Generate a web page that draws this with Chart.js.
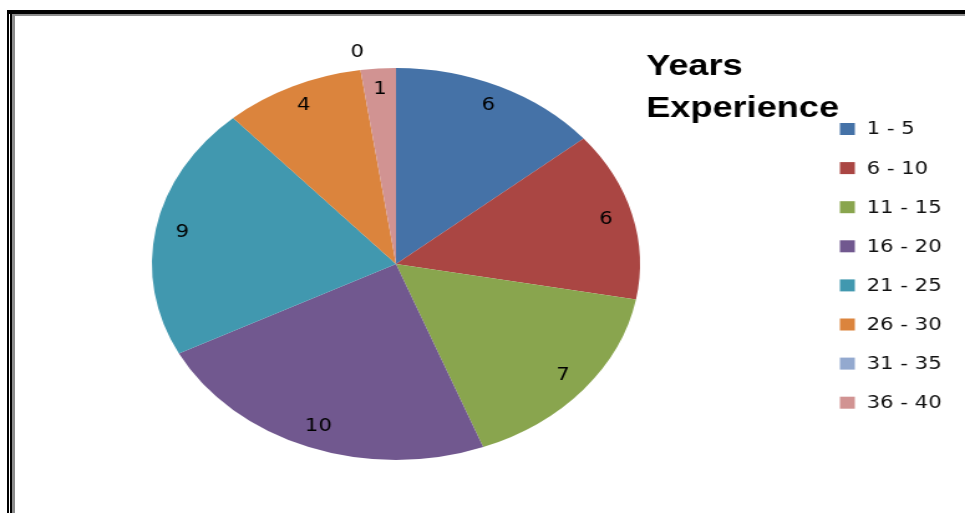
<!DOCTYPE html>
<html>
<head>
<meta charset="utf-8">
<script src="https://cdn.jsdelivr.net/npm/chart.js@4/dist/chart.umd.min.js"></script>
<style>
    html, body { margin: 0; padding: 0; background: #fff; overflow: hidden; }
    #wrap { position: absolute; left: 0; top: 0; width: 775px; height: 513px;
            transform: scaleX(1.2452); transform-origin: 0 0; }
    #c { width: 775px; height: 513px; }
    .ln { position: absolute; }
</style>
</head>
<body>
<div id="wrap"><canvas id="c" width="775" height="513"></canvas></div>
<!-- frame -->
<div class="ln" style="left:7px;top:10px;width:958px;height:4px;background:#000"></div>
<div class="ln" style="left:12px;top:14px;width:953px;height:2px;background:#8c8c8c"></div>
<div class="ln" style="left:7px;top:10px;width:2px;height:503px;background:#000"></div>
<div class="ln" style="left:10px;top:12px;width:2px;height:501px;background:#000"></div>
<div class="ln" style="left:12px;top:14px;width:3px;height:499px;background:#8c8c8c"></div>
<script>
var categories = ['1 - 5', '6 - 10', '11 - 15', '16 - 20', '21 - 25', '26 - 30', '31 - 35', '36 - 40'];
var teachers = [6, 6, 7, 10, 9, 4, 0, 1];
var sliceColors = ['#4572A7', '#AA4643', '#89A54E', '#71588F', '#4198AF', '#DB843D', '#93A9CF', '#D19392'];
var titleLines = ['Years', 'Experience'];

// value labels inside each slice (zero goes just outside)
var sliceLabels = {
    id: 'sliceLabels',
    afterDatasetsDraw: function (chart) {
        var ctx = chart.ctx;
        var meta = chart.getDatasetMeta(0);
        ctx.save();
        ctx.font = '17px "DejaVu Sans"';
        ctx.fillStyle = '#000';
        ctx.textAlign = 'center';
        ctx.textBaseline = 'middle';
        meta.data.forEach(function (arc, i) {
            var v = teachers[i];
            var mid = (arc.startAngle + arc.endAngle) / 2;
            var r = v === 0 ? arc.outerRadius * 1.09 : arc.outerRadius * 0.89;
            ctx.fillText(String(v), arc.x + Math.cos(mid) * r, arc.y + Math.sin(mid) * r);
        });
        ctx.restore();
    }
};

// title and legend on the right
var sideLegend = {
    id: 'sideLegend',
    afterDraw: function (chart) {
        var ctx = chart.ctx;
        ctx.save();
        ctx.fillStyle = '#000';
        ctx.textAlign = 'left';
        ctx.textBaseline = 'alphabetic';
        ctx.font = 'bold 29px "Liberation Sans"';
        ctx.fillText(titleLines[0], 519, 75);
        ctx.fillText(titleLines[1], 519, 117);

        ctx.font = '17px "DejaVu Sans"';
        ctx.textBaseline = 'middle';
        categories.forEach(function (lab, i) {
            var y = 129 + i * 39.1;
            ctx.fillStyle = sliceColors[i];
            ctx.fillRect(674.5, y - 6, 12, 12);
            ctx.fillStyle = '#111';
            ctx.fillText(lab, 696, y + 1);
        });
        ctx.restore();
    }
};

var ctx = document.getElementById('c').getContext('2d');
var chart = new Chart(ctx, {
    type: 'pie',
    data: {
        labels: categories,
        datasets: [{
            data: teachers,
            backgroundColor: sliceColors,
            borderWidth: 0
        }]
    },
    options: {
        responsive: false,
        animation: false,
        layout: { padding: { top: 68, bottom: 53, left: 122, right: 261 } },
        plugins: {
            legend: { display: false },
            title: { display: false },
            tooltip: { enabled: false }
        }
    },
    plugins: [sliceLabels, sideLegend]
});
</script>
</body>
</html>
